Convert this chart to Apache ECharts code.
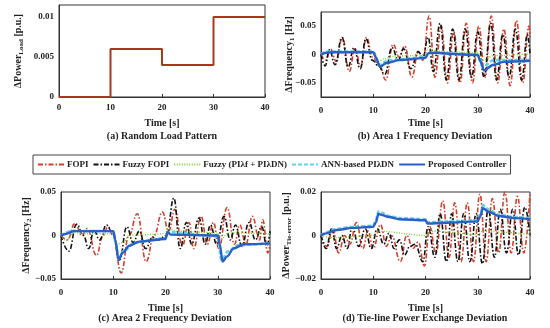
<!DOCTYPE html>
<html><head><meta charset="utf-8">
<script src="https://cdn.jsdelivr.net/npm/echarts@6/dist/echarts.min.js"></script>
<style>html,body{margin:0;padding:0;background:#fff}#c{width:550px;height:328px}</style>
</head><body><div id="c"></div>
<script>
// ---- Panel (a) random load pattern ----
const loadTimes  = [0, 10, 20, 30, 40];
const loadValues = [0, 0.006, 0.004, 0.01, 0.01];

// ---- Panel (b) Area 1 frequency deviation: [time, value] key points ----
const b_fopi = [[0,0],[0.9,-0.01],[1.8,0.01],[2.9,-0.012],[4.1,0.03],[5.4,-0.03],[6.5,0.01],[7.6,-0.02],[8.7,0.03],[9.9,-0.005],[11.2,-0.02],[12.4,-0.045],[13.8,0.018],[15,-0.005],[16,0.015],[17.4,-0.04],[18.6,0.005],[19.5,-0.01],[20.7,0.068],[21.8,-0.04],[23,0.05],[24.2,-0.05],[25.4,0.04],[26.6,-0.05],[27.8,0.055],[29,-0.05],[30.2,0.05],[31.4,-0.04],[32.6,0.068],[33.8,-0.05],[35,0.045],[36.2,-0.055],[37.4,0.06],[38.6,-0.05],[39.8,0.05],[40,0.03]];
const b_fuzzyFopi = [[0,0],[0.8,-0.02],[1.6,0.008],[2.7,-0.018],[4,0.03],[5.2,-0.022],[6.3,0.012],[7.5,-0.025],[8.6,0.028],[9.8,-0.01],[11,-0.02],[12.2,-0.035],[13.6,0.012],[14.8,-0.01],[15.8,0.01],[17.2,-0.025],[18.6,0.005],[19.5,-0.005],[20.5,0.03],[21.5,-0.03],[22.8,0.055],[24,-0.045],[25.2,0.045],[26.4,-0.045],[27.6,0.045],[28.8,-0.04],[30,0.04],[31.2,-0.04],[32.5,0.055],[33.6,-0.045],[34.8,0.035],[36,-0.04],[37.2,0.045],[38.4,-0.045],[39.5,0.035],[40,0]];
const b_fuzzyPI = [[0,0],[2,0.005],[4,0.003],[6,0.005],[10,0.003],[11,-0.012],[12,-0.008],[14,-0.003],[18,-0.002],[20,0],[20.5,0.012],[22,0.006],[30,0.003],[31,-0.01],[33,-0.002],[40,0.001]];
const b_ann = [[0,0],[1,0.005],[10,0.005],[11.2,-0.018],[13,-0.01],[20,-0.005],[20.7,0.003],[30,0],[31,-0.022],[33,-0.01],[40,-0.01]];
const b_prop = [[0,0],[1,0.003],[2,0.004],[10,0.004],[10.5,-0.005],[11.3,-0.022],[12.5,-0.015],[15,-0.01],[20,-0.006],[20.5,0.002],[21,0.003],[30,-0.001],[30.5,-0.012],[31.2,-0.028],[33,-0.018],[35,-0.013],[40,-0.011]];

// ---- Panel (c) Area 2 frequency deviation ----
const c_fopi = [[0,0],[1.2,-0.005],[2.7,0.014],[4,0],[5,0.008],[6.8,-0.023],[8,0],[9,0.01],[10,0],[11.5,-0.043],[13,0],[14.6,0.025],[16.3,-0.03],[17.8,0],[19.4,0.027],[20.6,0.005],[21.8,0.03],[23.2,-0.012],[24.5,0.015],[25.4,-0.015],[26.8,0.022],[28,-0.01],[29.2,0.015],[30.2,-0.015],[31.8,0.032],[33.2,-0.01],[34.2,0.012],[35.4,-0.01],[36.6,0.022],[38,-0.005],[38.6,0.018],[39.6,-0.02],[40,-0.01]];
const c_fuzzyFopi = [[0,0],[1.5,-0.018],[3,0.013],[4.3,0],[5.3,-0.015],[6.3,0.006],[7.4,-0.005],[8.7,0.012],[9.9,0.003],[11.2,-0.028],[12.6,0.01],[13.8,-0.008],[15,0.005],[16.2,-0.015],[17.5,-0.002],[18.6,-0.005],[20.2,0],[21.6,0.043],[22.8,-0.015],[24,0.015],[25,-0.01],[26.4,0.02],[27.6,-0.01],[28.6,0.012],[29.8,-0.01],[31.2,0.022],[32.4,-0.005],[33.4,0.012],[34.6,-0.012],[36,0.015],[37.2,-0.005],[38.4,0.01],[39.4,-0.012],[40,0.005]];
const c_fuzzyPI = [[0,0],[1,-0.006],[2.5,0.004],[4,0.002],[10,0.002],[10.5,-0.01],[12,-0.008],[13,0],[20,0.002],[20.5,0.008],[22,0.005],[30,0.003],[30.5,-0.005],[32,0.003],[40,0.002]];
const c_ann = [[0,0],[2,0.005],[10,0.005],[10.5,-0.01],[11,-0.025],[12,-0.018],[14,-0.008],[20,-0.003],[20.5,0.004],[30,-0.001],[30.7,-0.028],[32,-0.018],[34,-0.011],[40,-0.009]];
const c_prop = [[0,0],[1,0.002],[2.5,0.005],[10,0.005],[10.4,-0.005],[11,-0.028],[11.8,-0.02],[13,-0.012],[15,-0.007],[20,-0.004],[20.4,0.004],[21,0.001],[30,0],[30.4,-0.01],[30.9,-0.03],[31.8,-0.024],[33,-0.015],[35,-0.01],[40,-0.009]];

// ---- Panel (d) tie-line power exchange deviation ----
const d_fopi = [[0,0],[1.2,-0.005],[2.2,0.003],[3.4,-0.008],[4.5,0],[5.5,-0.004],[6.8,0.006],[8,-0.006],[9,0.002],[10,-0.006],[11.4,0.005],[12.5,-0.005],[13.5,0],[15.2,-0.012],[16.4,0],[17.6,-0.006],[18.6,-0.003],[19.8,-0.014],[20.8,0.004],[22,-0.008],[23.3,0.016],[24.5,-0.01],[25.6,0.015],[26.8,-0.012],[28,0.015],[29.2,-0.012],[30.4,0.019],[31.6,-0.012],[32.8,0.017],[34,-0.008],[35.2,0.02],[36.4,-0.008],[37.6,0.018],[38.8,-0.008],[40,0.02]];
const d_fuzzyFopi = [[0,0],[1,-0.006],[2,0.003],[3,-0.006],[4,0],[5,-0.006],[6,0.004],[7.2,-0.005],[8.5,0.003],[9.6,-0.006],[10.8,0.003],[12,-0.004],[13,0.001],[14,-0.006],[15,-0.002],[16,-0.009],[17,-0.005],[18,-0.004],[19.5,-0.012],[20.5,0.004],[21.8,-0.01],[22.8,0.01],[24,-0.012],[25,0.01],[26.2,-0.012],[27.3,0.01],[28.5,-0.012],[29.7,0.01],[30.9,-0.013],[32,0.012],[33.2,-0.01],[34.3,0.012],[35.5,-0.008],[36.7,0.012],[37.8,-0.009],[39,0.013],[40,0]];
const d_fuzzyPI = [[0,0],[2,-0.001],[10,0],[11,0.002],[20,0],[21,0.002],[30,0.0005],[31,0.002],[40,0.0005]];
const d_ann = [[0,0],[1,0.0015],[3,0.003],[6,0.004],[10,0.0045],[10.5,0.007],[11,0.011],[11.5,0.0105],[13,0.009],[15,0.008],[20,0.0075],[20.4,0.006],[25,0.0065],[30,0.007],[30.5,0.01],[31,0.014],[32,0.012],[34,0.0095],[37,0.0085],[40,0.008]];
const d_prop = [[0,0],[1,0.001],[3,0.0025],[6,0.0035],[10,0.004],[10.5,0.006],[11,0.01],[11.5,0.0095],[13,0.0085],[15,0.0075],[20,0.007],[20.4,0.0055],[25,0.006],[30,0.0065],[30.5,0.009],[31,0.0125],[32,0.011],[34,0.009],[37,0.008],[40,0.0075]];

const names = ['FOPI','Fuzzy FOPI','Fuzzy (PI\u03BBf + PI\u03BBDN)','ANN-based PI\u03BBDN','Proposed Controller'];
const captions = ['(a) Random Load Pattern','(b) Area 1 Frequency Deviation','(c) Area 2 Frequency Deviation','(d) Tie-line Power Exchange Deviation'];

const FONT = 'Liberation Serif';
const styles = [
  {color:'#d2402a', width:1.6, type:[5,2,1.5,2]},
  {color:'#111111', width:1.6, type:[5,2,1.5,2]},
  {color:'#7fcf3a', width:1.4, type:[1,1.5]},
  {color:'#5fd3ea', width:2.6, type:[4,2]},
  {color:'#2a5fc6', width:2.4, type:'solid'}
];

const grids = [
  {left:59, top:5, width:206, height:92},
  {left:321, top:12, width:209, height:85},
  {left:61, top:192, width:209, height:87},
  {left:321, top:192, width:209, height:87}
];

const yNames = [
  '{a|\u0394Power}{s|Load}{a| [p.u.]}',
  '{a|\u0394Frequency}{s|1}{a| [Hz]}',
  '{a|\u0394Frequency}{s|2}{a| [Hz]}',
  '{a|\u0394Power}{s|Tie-error}{a| [p.u.]}'
];
const yCfg = [
  {min:0, max:0.0115, interval:0.005, show:[0,0.005,0.01], gap:34},
  {min:-0.075, max:0.075, interval:0.025, show:[-0.05,0,0.05], gap:25},
  {min:-0.05, max:0.05, interval:0.05, show:[-0.05,0,0.05], gap:28},
  {min:-0.02, max:0.02, interval:0.02, show:[-0.02,0,0.02], gap:28}
];
const xGaps = [21, 21, 24, 24];

function fmt(v, list){
  for (const s of list) if (Math.abs(v - s) < 1e-9) {
    if (s === 0) return '0';
    return (s < 0 ? '\u2212' : '') + String(Math.abs(s));
  }
  return '';
}

const labelStyle = {fontFamily:FONT, fontWeight:'bold', fontSize:9, color:'#222'};

const xAxis = grids.map((g,i)=>({
  type:'value', gridIndex:i, min:0, max:40, interval:10,
  name:'Time [s]', nameLocation:'middle', nameGap:xGaps[i], nameMoveOverlap:false,
  nameTextStyle:{fontFamily:FONT, fontWeight:'bold', fontSize:10, color:'#222'},
  axisLine:{onZero:false, lineStyle:{color:'#333', width:1}},
  axisTick:{inside:true, length:3, lineStyle:{color:'#333'}},
  splitLine:{show:false},
  axisLabel:Object.assign({margin:i===0?6:9}, labelStyle)
}));
const yAxis = grids.map((g,i)=>({
  type:'value', gridIndex:i, min:yCfg[i].min, max:yCfg[i].max, interval:yCfg[i].interval,
  name:yNames[i], nameLocation:'middle', nameRotate:90, nameGap:yCfg[i].gap, nameMoveOverlap:false,
  nameTextStyle:{rich:{
    a:{fontFamily:FONT, fontWeight:'bold', fontSize:10, color:'#222', lineHeight:14, verticalAlign:'middle'},
    s:{fontFamily:FONT, fontWeight:'bold', fontSize:7, color:'#222', lineHeight:14, verticalAlign:'bottom', padding:[6,0,0,0]}
  }},
  axisLine:{show:true, lineStyle:{color:'#333', width:1}},
  axisTick:{show:false},
  splitLine:{show:false},
  axisLabel:Object.assign({margin:5, formatter:(v)=>fmt(v, yCfg[i].show)}, labelStyle)
}));

const series = [];
series.push({
  type:'line', xAxisIndex:0, yAxisIndex:0, step:'end', symbol:'none',
  data: loadTimes.map((t,k)=>[t, loadValues[k]]),
  lineStyle:{color:'#a8381c', width:2}, silent:true
});
const panelData = [
  [b_fopi, b_fuzzyFopi, b_fuzzyPI, b_ann, b_prop],
  [c_fopi, c_fuzzyFopi, c_fuzzyPI, c_ann, c_prop],
  [d_fopi, d_fuzzyFopi, d_fuzzyPI, d_ann, d_prop]
];
panelData.forEach((set, p)=>{
  set.forEach((data, k)=>{
    series.push({
      type:'line', name:names[k], xAxisIndex:p+1, yAxisIndex:p+1,
      data:data, symbol:'none', smooth:k<2?0.45:0.3, smoothMonotone:'x',
      lineStyle:{color:styles[k].color, width:styles[k].width, type:styles[k].type},
      itemStyle:{color:styles[k].color}, z:2+k
    });
  });
});

const capPos = [[162,131],[425,131],[165,313],[425,313]];
const chart = echarts.init(document.getElementById('c'), null, {renderer:'canvas'});
chart.setOption({
  animation:false,
  backgroundColor:'#fff',
  grid: grids.map(g=>Object.assign({show:true, borderColor:'#333', borderWidth:1, backgroundColor:'transparent'}, g)),
  xAxis, yAxis,
  title: captions.map((t,i)=>({text:t, left:capPos[i][0], top:capPos[i][1], textAlign:'center',
    textStyle:{fontFamily:FONT, fontWeight:'bold', fontSize:10, color:'#222'}, padding:0})),
  legend:{
    data:names, left:33, top:155, itemWidth:26, itemHeight:8, itemGap:4,
    borderColor:'#444', borderWidth:1, padding:[5,4],
    itemStyle:{opacity:0},
    textStyle:{fontFamily:FONT, fontWeight:'bold', fontSize:9, color:'#222', padding:[0,0,0,-2]}
  },
  series
});
</script></body></html>
